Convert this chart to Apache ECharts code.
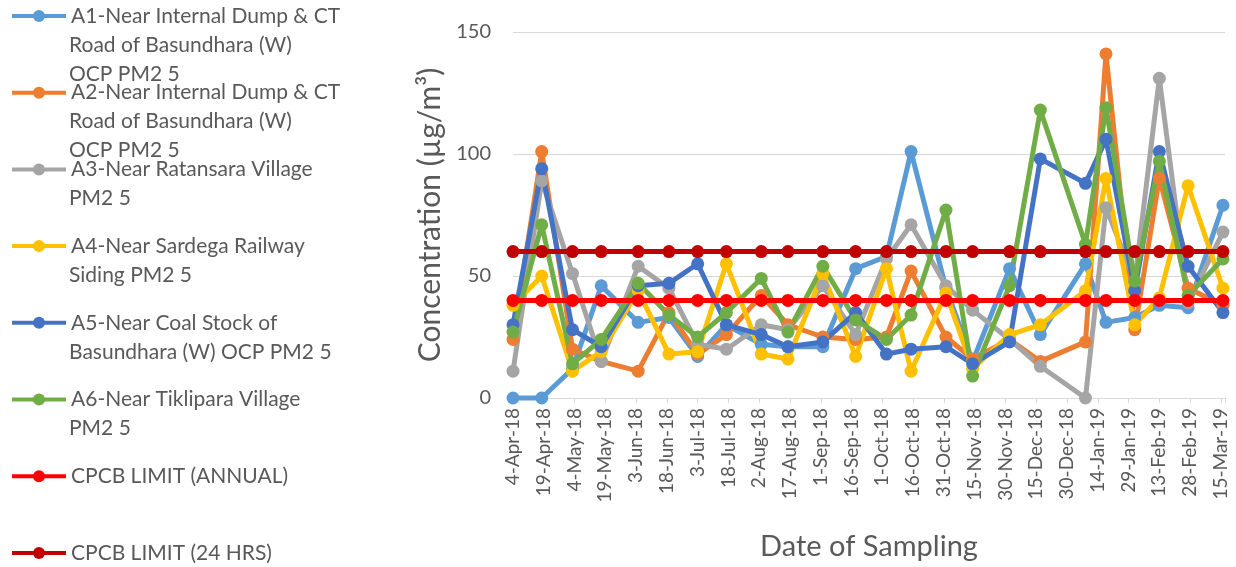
<!DOCTYPE html>
<html>
<head>
<meta charset="utf-8">
<script src="https://cdn.jsdelivr.net/npm/echarts@6/dist/echarts.min.js"></script>
<style>
  html, body { margin: 0; padding: 0; background: #fff; }
  #main { width: 1236px; height: 567px; }
</style>
</head>
<body>
<div id="main"></div>
<script>
// sampling dates (day 0 = 4-Apr-18)
var startDate = '2018-04-04';
var sampleDates = [
  '2018-04-04', '2018-04-18', '2018-05-03', '2018-05-17', '2018-06-04', '2018-06-19',
  '2018-07-03', '2018-07-17', '2018-08-03', '2018-08-16', '2018-09-02', '2018-09-18',
  '2018-10-03', '2018-10-15', '2018-11-01', '2018-11-14', '2018-12-02', '2018-12-17',
  '2019-01-08', '2019-01-18', '2019-02-01', '2019-02-13', '2019-02-27', '2019-03-16'
];

// PM2.5 values (µg/m³)
var a1 = [0, 0, 12, 46, 31, 33, 17, 30, 22, 21, 21, 53, 58, 101, 45, 15, 53, 26, 55, 31, 33, 38, 37, 79];
var a2 = [24, 101, 20, 15, 11, 35, 18, 26, 42, 30, 25, 24, 25, 52, 25, 16, 24, 15, 23, 141, 28, 90, 45, 38];
var a3 = [11, 89, 51, 15, 54, 45, 22, 20, 30, 28, 46, 26, 57, 71, 46, 36, 24, 13, 0, 78, 48, 131, 39, 68];
var a4 = [38, 50, 11, 19, 44, 18, 19, 55, 18, 16, 51, 17, 53, 11, 43, 12, 26, 30, 44, 90, 30, 41, 87, 45];
var a5 = [30, 94, 28, 21, 46, 47, 55, 30, 26, 21, 23, 35, 18, 20, 21, 14, 23, 98, 88, 106, 44, 101, 54, 35];
var a6 = [27, 71, 14, 24, 47, 34, 25, 35, 49, 27, 54, 32, 24, 34, 77, 9, 46, 118, 63, 119, 48, 97, 42, 57];
var limitAnnual = [40, 40, 40, 40, 40, 40, 40, 40, 40, 40, 40, 40, 40, 40, 40, 40, 40, 40, 40, 40, 40, 40, 40, 40];
var limit24h = [60, 60, 60, 60, 60, 60, 60, 60, 60, 60, 60, 60, 60, 60, 60, 60, 60, 60, 60, 60, 60, 60, 60, 60];

// legend text, one entry per line as in the original
var legendLines = [
  ['A1-Near Internal Dump & CT', 'Road of Basundhara (W)', 'OCP PM2 5'],
  ['A2-Near Internal Dump & CT', 'Road of Basundhara (W)', 'OCP PM2 5'],
  ['A3-Near Ratansara Village', 'PM2 5'],
  ['A4-Near Sardega Railway', 'Siding PM2 5'],
  ['A5-Near Coal Stock of', 'Basundhara (W) OCP PM2 5'],
  ['A6-Near Tiklipara Village', 'PM2 5'],
  ['CPCB LIMIT (ANNUAL)'],
  ['CPCB LIMIT (24 HRS)']
];
var colors = ['#5B9BD5', '#ED7D31', '#A5A5A5', '#FFC000', '#4472C4', '#70AD47', '#FF0000', '#C00000'];
var allValues = [a1, a2, a3, a4, a5, a6, limitAnnual, limit24h];

var MONTHS = ['Jan', 'Feb', 'Mar', 'Apr', 'May', 'Jun', 'Jul', 'Aug', 'Sep', 'Oct', 'Nov', 'Dec'];
var DAY = 86400000;
function dayOf(d) {
  return (Date.parse(d) - Date.parse(startDate)) / DAY;
}
function tickLabel(v) {
  if (v % 15 !== 0) return '';
  var d = new Date(Date.parse(startDate) + v * DAY);
  return d.getUTCDate() + '-' + MONTHS[d.getUTCMonth()] + '-' + String(d.getUTCFullYear()).slice(2);
}

var FONT = 'Lato, "Open Sans", sans-serif';
var TEXT = '#595959';
var legendTop = 16;     // centre of first legend line
var legendStep = 76.7;  // distance between legend items
var lineH = 29;         // line spacing of wrapped legend text
var itemH = 22;         // height of one legend row

var series = allValues.map(function (vals, i) {
  return {
    name: legendLines[i].join(' '),
    type: 'line',
    symbol: 'circle',
    symbolSize: 13,
    clip: false,
    color: colors[i],
    lineStyle: { width: 5 },
    emphasis: { disabled: true },
    data: vals.map(function (v, k) { return [dayOf(sampleDates[k]), v]; })
  };
});

// continuation lines of the wrapped legend labels
var extraText = [];
legendLines.forEach(function (lines, i) {
  lines.slice(1).forEach(function (t, j) {
    extraText.push({
      type: 'text',
      left: 69,
      top: legendTop + i * legendStep + (j + 1) * lineH - lineH / 2,
      style: { text: t, font: '21px ' + FONT, fill: TEXT, lineHeight: lineH }
    });
  });
});

var firstLine = {};
legendLines.forEach(function (lines) { firstLine[lines.join(' ')] = lines[0]; });

var chart = echarts.init(document.getElementById('main'));
chart.setOption({
  animation: false,
  textStyle: { fontFamily: FONT },
  grid: { left: 513, right: 11, top: 32, bottom: 169 },
  legend: {
    orient: 'vertical',
    left: 10,
    top: legendTop - itemH / 2,
    height: 620,
    padding: 0,
    itemGap: legendStep - itemH,
    itemWidth: 54,
    itemHeight: 15,
    lineStyle: { width: 4 },
    selectedMode: false,
    textStyle: { color: TEXT, fontSize: 21, fontFamily: FONT, lineHeight: itemH },
    formatter: function (name) { return firstLine[name]; }
  },
  graphic: extraText,
  xAxis: {
    type: 'value',
    min: 0,
    max: 347,
    interval: 15,
    name: 'Date of Sampling',
    nameLocation: 'middle',
    nameGap: 134,
    nameTextStyle: { color: TEXT, fontSize: 29, fontFamily: FONT },
    axisLine: { lineStyle: { color: '#D9D9D9', width: 1 } },
    axisTick: { show: true, length: 5, lineStyle: { color: '#D9D9D9' } },
    splitLine: { show: false },
    axisLabel: {
      rotate: 90,
      margin: 10,
      color: TEXT,
      fontSize: 19,
      fontFamily: FONT,
      formatter: tickLabel
    }
  },
  yAxis: {
    type: 'value',
    min: 0,
    max: 150,
    interval: 50,
    name: 'Concentration (µg/m³)',
    nameLocation: 'middle',
    nameGap: 65,
    nameTextStyle: { color: TEXT, fontSize: 30, fontFamily: FONT },
    axisLine: { show: false },
    axisTick: { show: false },
    splitLine: { lineStyle: { color: '#D9D9D9', width: 1 } },
    axisLabel: { margin: 22, color: TEXT, fontSize: 20, fontFamily: FONT }
  },
  series: series
});
</script>
</body>
</html>
